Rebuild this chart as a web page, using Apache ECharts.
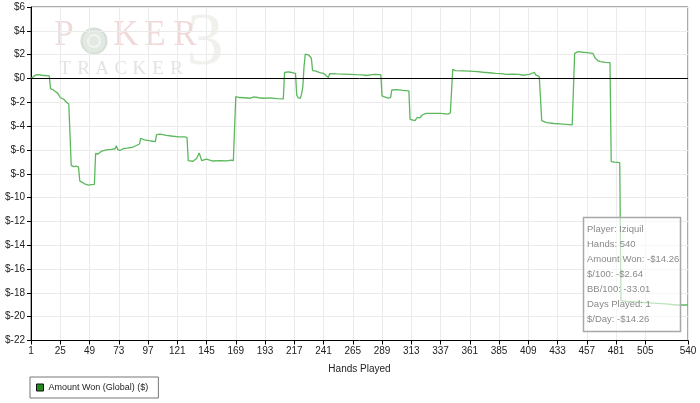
<!DOCTYPE html>
<html>
<head>
<meta charset="utf-8">
<script src="https://cdn.jsdelivr.net/npm/echarts@6/dist/echarts.min.js"></script>
<style>
  html, body { margin: 0; padding: 0; background: #fff; }
  #chart { width: 700px; height: 403px; }
</style>
</head>
<body>
<div id="chart"></div>
<script>
// hands on the x axis (category labels 1..540)
var hands = []
for (var h = 1; h <= 540; h++) hands.push(String(h))

// y axis range / tick step ($)
var yMin = -22
var yMax = 6
var yStep = 2

// amount won: [hand, $]
var amountWon = [
  [1, 0.0], [2, 0.0], [5, 0.3], [7, 0.32], [10, 0.27], [16, 0.22],
  [17, -0.85], [19, -0.95], [21, -1.1], [23, -1.25], [25, -1.6], [28, -1.75],
  [30, -2.0], [32, -2.15], [33, -2.2], [34, -7.3], [35, -7.2], [36, -7.4],
  [38, -7.35], [40, -7.45], [41, -8.6], [43, -8.72], [45, -8.85], [48, -8.95],
  [51, -8.92], [53, -8.9], [54, -6.3], [56, -6.35], [59, -6.1], [63, -6.0],
  [67, -5.95], [70, -5.9], [71, -5.65], [72, -5.95], [74, -6.05], [77, -5.88],
  [80, -5.85], [84, -5.78], [87, -5.65], [90, -5.5], [91, -5.02], [94, -5.15],
  [98, -5.22], [101, -5.27], [103, -5.3], [104, -4.72], [107, -4.67], [112, -4.78],
  [116, -4.83], [122, -4.9], [127, -4.9], [129, -4.95], [130, -6.9], [134, -6.95],
  [137, -6.7], [139, -6.25], [141, -6.9], [145, -6.78], [150, -6.93], [156, -6.9],
  [162, -6.92], [163, -7.04], [165, -6.85], [167, -6.9], [168, -7.0], [169, -1.53],
  [172, -1.6], [176, -1.62], [181, -1.66], [184, -1.55], [188, -1.62], [192, -1.66],
  [197, -1.63], [203, -1.7], [208, -1.72], [209, 0.5], [212, 0.55], [215, 0.5],
  [218, 0.43], [219, -1.39], [220, -1.6], [222, -1.67], [223, -1.3], [224, -0.7],
  [225, 1.0], [226, 2.05], [229, 1.95], [230, 1.83], [231, 1.7], [232, 0.66],
  [234, 0.63], [238, 0.5], [241, 0.43], [243, 0.25], [245, 0.08], [246, 0.4],
  [252, 0.38], [257, 0.37], [263, 0.35], [268, 0.32], [273, 0.3], [276, 0.25],
  [277, 0.37], [282, 0.34], [288, 0.32], [289, -1.47], [291, -1.55], [294, -1.66],
  [296, -1.6], [297, -0.97], [301, -0.93], [306, -1.0], [311, -1.05], [312, -3.43],
  [316, -3.54], [318, -3.26], [320, -3.3], [322, -3.07], [325, -2.93], [330, -2.93],
  [337, -2.93], [343, -3.0], [345, -2.9], [346, -2.9], [347, 0.77], [349, 0.66],
  [355, 0.64], [361, 0.62], [367, 0.57], [372, 0.52], [377, 0.48], [382, 0.43],
  [387, 0.4], [391, 0.35], [396, 0.36], [401, 0.35], [405, 0.27], [408, 0.32],
  [410, 0.35], [414, 0.52], [415, 0.3], [418, 0.15], [420, -3.54], [424, -3.71],
  [430, -3.78], [435, -3.82], [440, -3.86], [445, -3.9], [446, -3.97], [447, 2.11],
  [450, 2.25], [454, 2.2], [457, 2.17], [462, 2.1], [464, 1.69], [466, 1.5],
  [468, 1.41], [472, 1.35], [476, 1.33], [477, -6.98], [480, -7.02], [484, -7.07],
  [485, -18.66], [490, -18.72], [500, -18.78], [505, -18.82], [515, -18.88], [522, -18.93],
  [530, -19.02], [540, -19.02]
]

// stats box lines
var statLines = [
  'Player: Iziquil',
  'Hands: 540',
  'Amount Won: -$14.26',
  '$/100: -$2.64',
  'BB/100: -33.01',
  'Days Played: 1',
  '$/Day: -$14.26'
]

var seriesName = 'Amount Won (Global) ($)'
var font = 'Liberation Sans, Arial, sans-serif'

// x ticks every 24 hands from 1, plus the last hand
function showHandTick (index) {
  return (index % 24 === 0 && index <= 504) || index === 539
}

var chart = echarts.init(document.getElementById('chart'))

// watermark logo pieces
var logo = []
logo.push({
  type: 'text', x: 205, y: 82, z: -11, silent: true,
  style: { text: '3', fill: '#eef1ec', font: '74px Liberation Serif, serif', textAlign: 'center', textVerticalAlign: 'bottom' }
})
var pLetters = [['P', 64], ['K', 126], ['E', 155], ['R', 185]]
pLetters.forEach(function (l) {
  logo.push({
    type: 'text', x: l[1], y: 53, z: -10, silent: true,
    style: { text: l[0], fill: '#f0d9d9', font: '35px Liberation Serif, serif', textAlign: 'center', textVerticalAlign: 'bottom' }
  })
})
logo.push({
  type: 'circle', shape: { cx: 94, cy: 41, r: 12.5 }, z: -10, silent: true,
  style: { fill: '#e2e9e2', stroke: '#d5dfd5', lineWidth: 2 }
})
logo.push({
  type: 'circle', shape: { cx: 94, cy: 41, r: 6 }, z: -10, silent: true,
  style: { fill: 'none', stroke: '#f2f5f2', lineWidth: 2 }
})
'TRACKER'.split('').forEach(function (c, i) {
  logo.push({
    type: 'text', x: 65 + 18.6 * i, y: 79, z: -10, silent: true,
    style: { text: c, fill: '#e3e3e3', font: '19px Liberation Serif, serif', textAlign: 'center', textVerticalAlign: 'bottom' }
  })
})

// stats box (drawn above the line, line still shows through)
var statBox = [{
  type: 'rect', z: 100, silent: true,
  shape: { x: 583.5, y: 217.5, width: 97, height: 114 },
  style: { fill: 'rgba(255,255,255,0.6)', stroke: '#a8a8a8', lineWidth: 1.5 }
}].concat(statLines.map(function (t, i) {
  return {
    type: 'text', z: 101, silent: true, x: 587, y: 229 + 15 * i,
    style: { text: t, fill: '#8a8a8a', font: '9.5px ' + font, textVerticalAlign: 'middle' }
  }
}))

var option = {
  animation: false,
  backgroundColor: '#fff',
  textStyle: { fontFamily: font },
  grid: {
    left: 31,
    right: 12,
    top: 7,
    bottom: 62.5,
    show: true,
    borderColor: '#555',
    borderWidth: 1
  },
  legend: {
    left: 30,
    top: 377,
    orient: 'horizontal',
    padding: [6, 10, 6, 6],
    borderColor: '#777',
    borderWidth: 1,
    itemWidth: 7,
    itemHeight: 7,
    icon: 'rect',
    textStyle: { fontSize: 9, color: '#222', fontFamily: font },
    data: [{
      name: seriesName,
      itemStyle: { color: '#218a21', borderColor: '#111', borderWidth: 1 }
    }]
  },
  xAxis: {
    type: 'category',
    data: hands,
    boundaryGap: false,
    name: 'Hands Played',
    nameLocation: 'middle',
    nameGap: 24,
    nameTextStyle: { fontSize: 10, color: '#222' },
    axisLine: { onZero: false, lineStyle: { color: '#000' } },
    axisTick: { interval: showHandTick, length: 4, lineStyle: { color: '#000' } },
    axisLabel: { interval: showHandTick, fontSize: 10, color: '#222', margin: 6 },
    splitLine: { show: true, interval: showHandTick, lineStyle: { color: '#ebebeb' } }
  },
  yAxis: {
    type: 'value',
    min: yMin,
    max: yMax,
    interval: yStep,
    axisLine: { show: true, lineStyle: { color: '#000' } },
    axisTick: { show: true, length: 4, lineStyle: { color: '#000' } },
    axisLabel: {
      fontSize: 10,
      color: '#222',
      margin: 6,
      formatter: function (v) { return '$' + v }
    },
    splitLine: { lineStyle: { color: '#ebebeb' } }
  },
  graphic: logo.concat(statBox),
  series: [{
    name: seriesName,
    type: 'line',
    showSymbol: false,
    symbol: 'none',
    data: amountWon.map(function (d) { return [String(d[0]), d[1]] }),
    lineStyle: { color: '#5cb85c', width: 1.3 },
    itemStyle: { color: '#218a21' },
    markLine: {
      silent: true,
      symbol: 'none',
      label: { show: false },
      lineStyle: { color: '#000', width: 1, type: 'solid' },
      data: [{ yAxis: 0 }]
    }
  }]
}

chart.setOption(option)
</script>
</body>
</html>
